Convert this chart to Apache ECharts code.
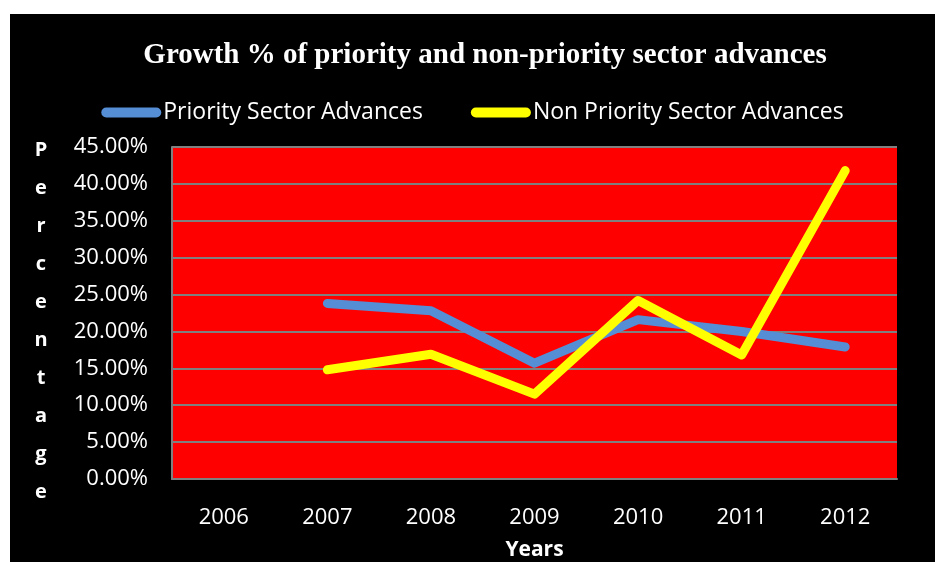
<!DOCTYPE html>
<html>
<head>
<meta charset="utf-8">
<script src="https://cdn.jsdelivr.net/npm/echarts@6/dist/echarts.min.js"></script>
<style>
  html, body { margin: 0; padding: 0; background: #ffffff; }
  #chart { position: absolute; left: 10px; top: 14px; width: 925px; height: 548px; background: #000000; }
</style>
</head>
<body>
<div id="chart"></div>
<script>
// Growth rates (%) by year; 2006 has no figure
const years = ['2006', '2007', '2008', '2009', '2010', '2011', '2012'];
const prioritySector = [null, 23.8, 22.8, 15.7, 21.6, 20.0, 17.9];
const nonPrioritySector = [null, 14.8, 16.9, 11.5, 24.2, 16.8, 41.8];
const seriesNames = ['Priority Sector Advances', 'Non Priority Sector Advances'];
const yAxisTitle = 'Percentage';

const chart = echarts.init(document.getElementById('chart'), null, { renderer: 'canvas' });

const sansFont = '"Open Sans", "Noto Sans", sans-serif';
const capsule = 'path://M5,0 H55 A5,5 0 0 1 55,10 H5 A5,5 0 0 1 5,0 Z';

chart.setOption({
  backgroundColor: '#000000',
  animation: false,
  title: {
    text: 'Growth % of priority and non-priority sector advances',
    left: 470,
    textAlign: 'center',
    top: 22,
    textStyle: {
      color: '#ffffff',
      fontFamily: '"Liberation Serif", "DejaVu Serif", serif',
      fontWeight: 'bold',
      fontSize: 29
    }
  },
  legend: {
    top: 82,
    left: 'center',
    itemWidth: 60,
    itemHeight: 10,
    itemGap: 48,
    icon: capsule,
    data: seriesNames,
    textStyle: { color: '#ffffff', fontFamily: sansFont, fontSize: 23, padding: [0, 0, 0, -3] }
  },
  // vertical axis title, one letter per line
  graphic: [{
    type: 'text',
    x: 31,
    y: 117,
    style: {
      text: yAxisTitle.split('').join('\n'),
      align: 'center',
      verticalAlign: 'top',
      lineHeight: 38,
      fill: '#ffffff',
      fontFamily: sansFont,
      fontWeight: 'bold',
      fontSize: 20
    }
  }],
  grid: {
    left: 162,
    right: 38,
    top: 133,
    bottom: 83,
    outerBoundsMode: 'none',
    show: true,
    backgroundColor: '#ff0000',
    borderWidth: 0
  },
  xAxis: {
    type: 'category',
    data: years,
    boundaryGap: true,
    name: 'Years',
    nameLocation: 'middle',
    nameGap: 61,
    nameTextStyle: { color: '#ffffff', fontFamily: sansFont, fontWeight: 'bold', fontSize: 21 },
    axisLine: { show: true, lineStyle: { color: '#808080', width: 2 } },
    axisTick: { show: false },
    axisLabel: { color: '#ffffff', fontFamily: sansFont, fontSize: 22, margin: 28 }
  },
  yAxis: {
    type: 'value',
    min: 0,
    max: 45,
    interval: 5,
    axisLine: { show: true, lineStyle: { color: '#808080', width: 2 } },
    axisTick: { show: false },
    splitLine: { show: true, lineStyle: { color: '#808080', width: 2 } },
    axisLabel: {
      color: '#ffffff',
      fontFamily: sansFont,
      fontSize: 22,
      margin: 24,
      formatter: v => v.toFixed(2) + '%'
    }
  },
  series: [
    {
      name: seriesNames[0],
      type: 'line',
      data: prioritySector,
      showSymbol: false,
      color: '#558ed5',
      lineStyle: { width: 9, color: '#558ed5', cap: 'round', join: 'round' }
    },
    {
      name: seriesNames[1],
      type: 'line',
      data: nonPrioritySector,
      showSymbol: false,
      color: '#ffff00',
      lineStyle: { width: 9, color: '#ffff00', cap: 'round', join: 'round' }
    }
  ]
});
</script>
</body>
</html>
